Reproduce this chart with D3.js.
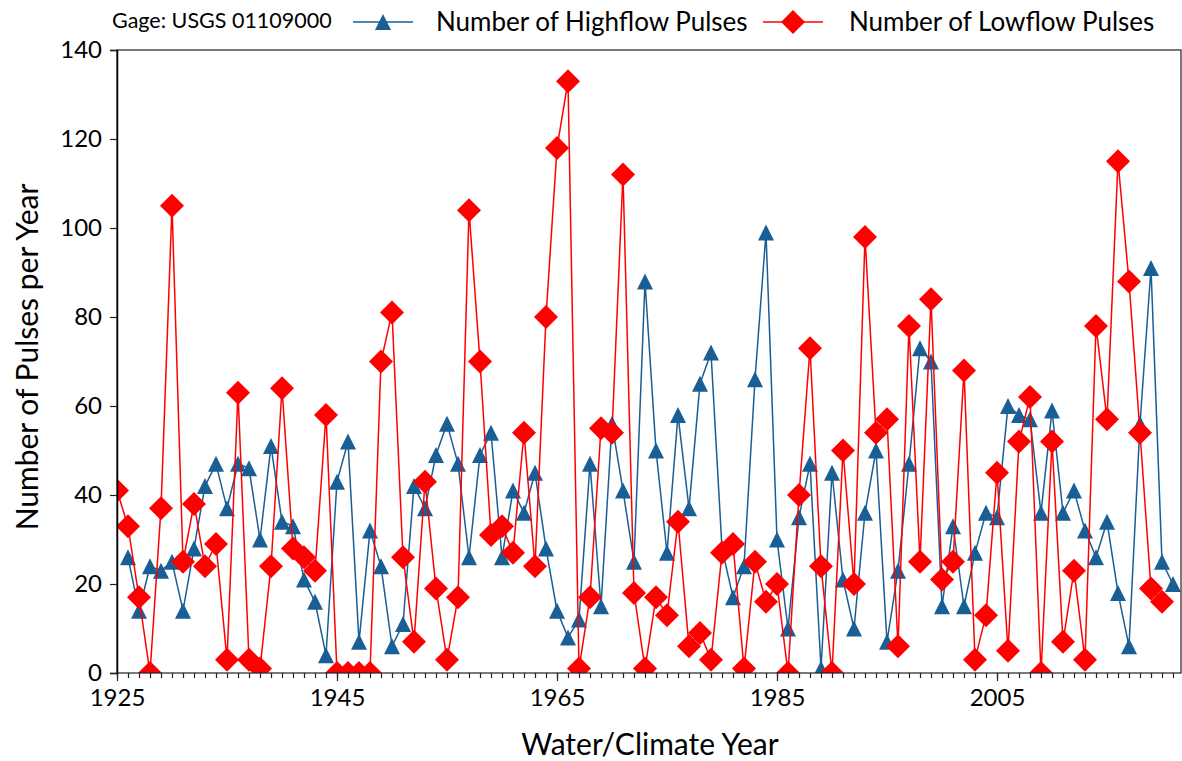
<!DOCTYPE html>
<html><head><meta charset="utf-8">
<script src="https://cdn.jsdelivr.net/npm/d3@7"></script>
<style>body{margin:0;background:#fff}svg{display:block}text{font-family:Lato,"Open Sans",sans-serif}</style>
</head><body><svg id="c" width="1182" height="761"></svg>
<script>
const highYears = d3.range(1926, 2022);
const highflow = [26,14,24,23,25,14,28,42,47,37,47,46,30,51,34,33,21,16,4,43,52,7,32,24,6,11,42,37,49,56,47,26,49,54,26,41,36,45,28,14,8,12,47,15,56,41,25,88,50,27,58,37,65,72,28,17,24,66,99,30,10,35,47,1,45,21,10,36,50,7,23,47,73,70,15,33,15,27,36,35,60,58,57,36,59,36,41,32,26,34,18,6,56,91,25,20];
const lowYears = d3.range(1925, 2021);
const lowflow = [41,33,17,0,37,105,25,38,24,29,3,63,3,1,24,64,28,26,23,58,0,0,0,0,70,81,26,7,43,19,3,17,104,70,31,33,27,54,24,80,118,133,1,17,55,54,112,18,1,17,13,34,6,9,3,27,29,1,25,16,20,0,40,73,24,0,50,20,98,54,57,6,78,25,84,21,25,68,3,13,45,5,52,62,0,52,7,23,3,78,57,115,88,54,19,16];
const xTicks = [1925,1945,1965,1985,2005];
const yTicks = [0,20,40,60,80,100,120,140];
const gageLabel = "Gage: USGS 01109000";
const seriesNames = ["Number of Highflow Pulses","Number of Lowflow Pulses"];
const xTitle = "Water/Climate Year", yTitle = "Number of Pulses per Year";

const blue = "#1a5e96", red = "#ff0000";
const L = 117, R = 1181, T = 50, B = 673;
const svg = d3.select("#c");
const x = d3.scaleLinear().domain([1925, 1925 + (R - L) / 11]).range([L, R]);
const y = d3.scaleLinear().domain([0, 140]).range([B, T]);

svg.append("defs").append("clipPath").attr("id","clip")
  .append("rect").attr("x",L).attr("y",T).attr("width",R-L).attr("height",B-T);

const triPath = "M0,-8L8,8L-8,8Z";
const diaPath = "M0,-12L12,0L0,12L-12,0Z";

const plot = svg.append("g").attr("clip-path","url(#clip)");
const hi = highYears.map((yr,i)=>[yr, highflow[i]]);
const lo = lowYears.map((yr,i)=>[yr, lowflow[i]]);
const line = d3.line().x(d=>x(d[0])).y(d=>y(d[1]));
plot.append("path").datum(hi).attr("d",line).attr("fill","none").attr("stroke",blue).attr("stroke-width",1.5);
plot.selectAll(".hm").data(hi).join("path").attr("d",triPath)
  .attr("transform",d=>`translate(${x(d[0])},${y(d[1])})`).attr("fill",blue);
plot.append("path").datum(lo).attr("d",line).attr("fill","none").attr("stroke",red).attr("stroke-width",1.5);
plot.selectAll(".lm").data(lo).join("path").attr("d",diaPath)
  .attr("transform",d=>`translate(${x(d[0])},${y(d[1])})`).attr("fill",red);

// frame
svg.append("rect").attr("x",L).attr("y",T).attr("width",R-L).attr("height",B-T)
  .attr("fill","none").attr("stroke","#222").attr("stroke-width",1.2);

// x axis
const xa = svg.append("g").attr("transform",`translate(0,${B})`);
xa.call(d3.axisBottom(x).tickValues(d3.range(1925, 2022)).tickSize(5).tickFormat(""))
  .call(g=>g.select(".domain").remove());
xa.append("g").call(d3.axisBottom(x).tickValues(xTicks).tickSize(8).tickPadding(6).tickFormat(d3.format("d")))
  .call(g=>g.select(".domain").remove())
  .call(g=>g.selectAll("text").attr("font-size",24).attr("fill","#000").attr("dy","0.8em").attr("font-family","Lato"));
xa.selectAll("line").attr("stroke","#222").attr("stroke-width",1.2);

// y axis
const ya = svg.append("g").attr("transform",`translate(${L},0)`);
ya.call(d3.axisLeft(y).tickValues(yTicks).tickSize(7).tickPadding(8))
  .call(g=>g.select(".domain").attr("stroke","#000").attr("stroke-width",1.5))
  .call(g=>g.selectAll("text").attr("font-size",24).attr("fill","#000").attr("font-family","Lato"))
  .call(g=>g.selectAll("line").attr("stroke","#222").attr("stroke-width",1.2));

// titles
svg.append("text").attr("x",650).attr("y",755).attr("text-anchor","middle").attr("font-size",30).text(xTitle);
svg.append("text").attr("transform","translate(38,357) rotate(-90)").attr("text-anchor","middle").attr("font-size",30).text(yTitle);

// legend
svg.append("text").attr("x",112).attr("y",28).attr("font-size",21.5).text(gageLabel);
const lg = [{x0:353, color:blue, shape:triPath, label:seriesNames[0], tx:436},
            {x0:763, color:red, shape:diaPath, label:seriesNames[1], tx:849}];
lg.forEach(d=>{
  svg.append("line").attr("x1",d.x0).attr("x2",d.x0+60).attr("y1",22).attr("y2",22).attr("stroke",d.color).attr("stroke-width",1.5);
  svg.append("path").attr("d",d.shape).attr("transform",`translate(${d.x0+30},22)`).attr("fill",d.color);
  svg.append("text").attr("x",d.tx).attr("y",31).attr("font-size",26).text(d.label);
});
</script></body></html>
